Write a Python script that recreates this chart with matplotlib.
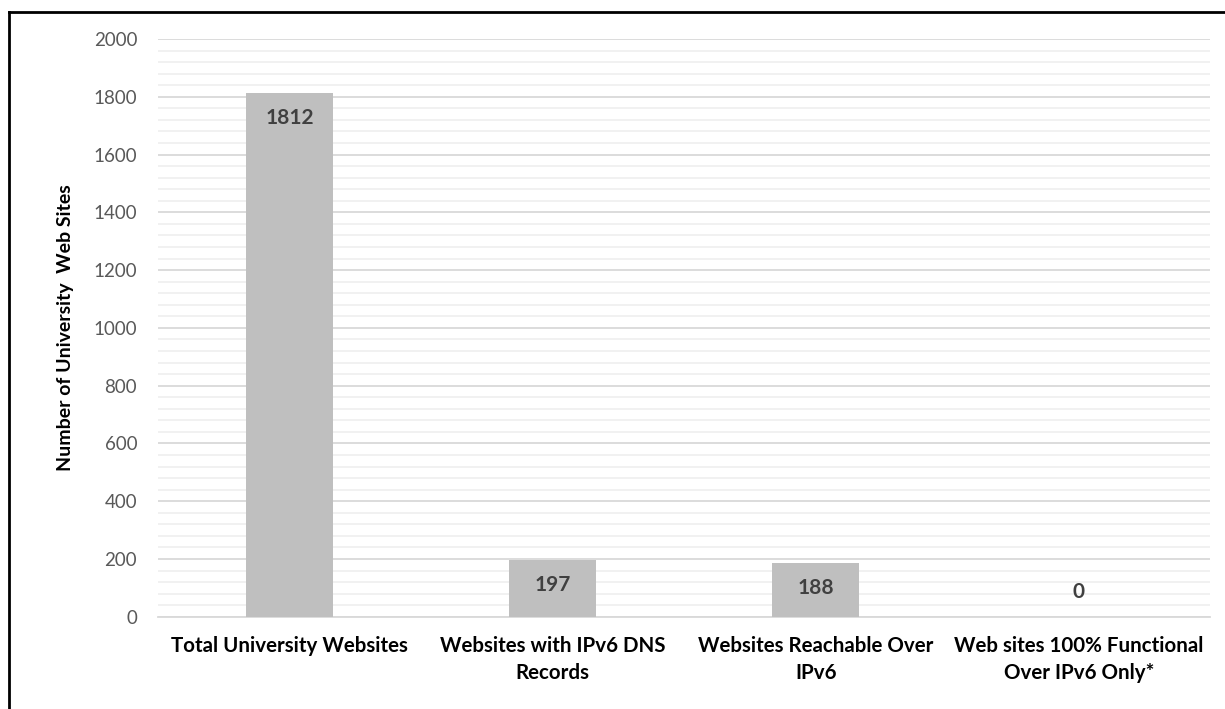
import matplotlib.pyplot as plt
from matplotlib.lines import Line2D
from matplotlib.ticker import MultipleLocator

# categories and counts
categories = ['Total University Websites',
              'Websites with IPv6 DNS\nRecords',
              'Websites Reachable Over\nIPv6',
              'Web sites 100% Functional\nOver IPv6 Only*']
counts = [1812, 197, 188, 0]

plt.rcParams['font.family'] = ['Lato', 'DejaVu Sans']

fig = plt.figure(figsize=(12.25, 7.09), dpi=100)
ax = fig.add_axes([0.129, 0.130, 0.859, 0.815])

x = range(len(categories))
bars = ax.bar(x, counts, width=0.33, color='#bfbfbf', zorder=3)

# value labels, inside the top of each bar (above the axis when empty)
for rect, v in zip(bars, counts):
    off = -18 if v > 0 else 18
    ax.annotate(str(v), (rect.get_x() + rect.get_width() / 2, v),
                xytext=(0, off), textcoords='offset points',
                ha='center', va='center', fontsize=15,
                fontweight='bold', color='#404040', zorder=4)

ax.set_xlim(-0.5, len(categories) - 0.5)
ax.set_ylim(0, 2000)
ax.yaxis.set_major_locator(MultipleLocator(200))
ax.yaxis.set_minor_locator(MultipleLocator(40))
ax.grid(axis='y', which='major', color='#d9d9d9', linewidth=1.3, zorder=0)
ax.grid(axis='y', which='minor', color='#f0f0f0', linewidth=1.3, zorder=0)

for s in ['top', 'right', 'left']:
    ax.spines[s].set_visible(False)
ax.spines['bottom'].set_color('#d9d9d9')
ax.spines['bottom'].set_linewidth(1.3)

ax.set_xticks(list(x))
ax.set_xticklabels(categories, fontsize=14.8, fontweight='bold',
                   color='#000000', linespacing=1.45)
ax.tick_params(axis='x', length=0, pad=14)
ax.tick_params(axis='y', which='both', length=0, pad=15,
               labelsize=13.5, labelcolor='#595959')

ax.set_ylabel('Number of University  Web Sites', fontsize=14,
              fontweight='bold', color='#000000', labelpad=14)

# frame line along the top and left edges
fig.add_artist(Line2D([0.0073, 0.0073], [0, 0.983], transform=fig.transFigure,
                      color='black', linewidth=2))
fig.add_artist(Line2D([0.0073, 1.0], [0.983, 0.983], transform=fig.transFigure,
                      color='black', linewidth=2))

fig.savefig('out.png', dpi=100)
